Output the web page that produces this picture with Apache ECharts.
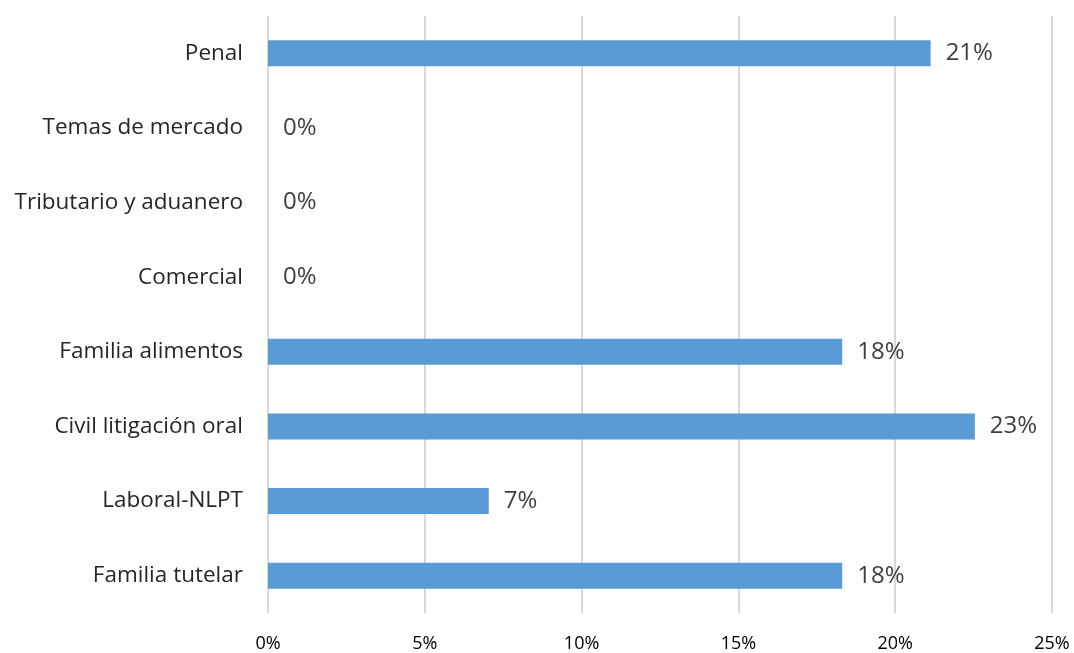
<!DOCTYPE html>
<html>
<head>
<meta charset="utf-8">
<script src="https://cdn.jsdelivr.net/npm/echarts@6/dist/echarts.min.js"></script>
<style>
  html, body { margin: 0; padding: 0; background: #fff; }
  #main { width: 1074px; height: 653px; }
</style>
</head>
<body>
<div id="main"></div>
<script>
// categorías, de abajo hacia arriba
var categorias = ['Familia tutelar', 'Laboral-NLPT', 'Civil litigación oral', 'Familia alimentos',
  'Comercial', 'Tributario y aduanero', 'Temas de mercado', 'Penal'];
// porcentaje por materia
var porcentajes = [18.31, 7.04, 22.54, 18.31, 0, 0, 0, 21.13];
var ticksX = [0, 5, 10, 15, 20, 25];

var myChart = echarts.init(document.getElementById('main'));
myChart.setOption({
  animation: false,
  textStyle: { fontFamily: 'Open Sans' },
  grid: { left: 268, right: 22, top: 16, bottom: 39 },
  xAxis: {
    type: 'value',
    min: ticksX[0],
    max: ticksX[ticksX.length - 1],
    interval: 5,
    axisLine: { show: false },
    axisTick: { show: false },
    axisLabel: {
      formatter: '{value}%',
      color: '#000',
      fontSize: 18,
      margin: 22
    },
    splitLine: { show: true, lineStyle: { color: '#d9d9d9', width: 2 } }
  },
  yAxis: {
    type: 'category',
    data: categorias,
    axisLine: { show: false },
    axisTick: { show: false },
    axisLabel: { color: '#262626', fontSize: 22.5, margin: 25, padding: [4, 0, 0, 0] }
  },
  series: [{
    type: 'bar',
    data: porcentajes,
    barCategoryGap: '65%',
    itemStyle: { color: '#5b9bd5' },
    label: {
      show: true,
      position: 'right',
      distance: 15,
      color: '#404040',
      fontSize: 24,
      padding: [4, 0, 0, 0],
      formatter: function (p) { return Math.round(p.value) + '%'; }
    }
  }]
});
</script>
</body>
</html>
